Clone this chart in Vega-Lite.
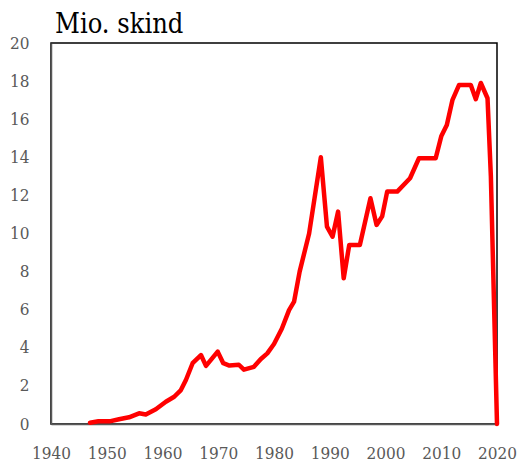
{
  "$schema": "https://vega.github.io/schema/vega-lite/v6.json",
  "width": 446,
  "height": 381,
  "autosize": {"type": "none"},
  "padding": {"left": 51, "top": 43, "right": 20, "bottom": 42},
  "background": "white",
  "config": {
    "view": {"stroke": "#000000", "strokeWidth": 1.5},
    "font": "DejaVu Serif Condensed, DejaVu Serif"
  },
  "title": {
    "text": "Mio. skind",
    "anchor": "start",
    "frame": "group",
    "orient": "top",
    "baseline": "alphabetic",
    "offset": 3,
    "dx": 4,
    "dy": 29,
    "font": "DejaVu Serif Condensed, DejaVu Serif",
    "fontSize": 27,
    "fontWeight": "normal",
    "color": "#000000"
  },
  "data": {
    "values": [
      {"year": 1947.0, "skins": 0.07},
      {"year": 1948.5, "skins": 0.14},
      {"year": 1950.5, "skins": 0.14},
      {"year": 1952.2, "skins": 0.25},
      {"year": 1954.0, "skins": 0.35},
      {"year": 1955.8, "skins": 0.56},
      {"year": 1957.0, "skins": 0.5},
      {"year": 1958.8, "skins": 0.77},
      {"year": 1960.6, "skins": 1.17},
      {"year": 1962.1, "skins": 1.43},
      {"year": 1963.3, "skins": 1.78},
      {"year": 1964.2, "skins": 2.31},
      {"year": 1965.4, "skins": 3.19},
      {"year": 1966.9, "skins": 3.62},
      {"year": 1967.8, "skins": 3.05},
      {"year": 1969.9, "skins": 3.8},
      {"year": 1970.9, "skins": 3.19},
      {"year": 1972.0, "skins": 3.07},
      {"year": 1973.7, "skins": 3.11},
      {"year": 1974.6, "skins": 2.85},
      {"year": 1976.4, "skins": 3.0},
      {"year": 1977.6, "skins": 3.4},
      {"year": 1978.8, "skins": 3.71},
      {"year": 1980.0, "skins": 4.2},
      {"year": 1981.4, "skins": 5.0},
      {"year": 1982.7, "skins": 5.98},
      {"year": 1983.6, "skins": 6.42},
      {"year": 1984.6, "skins": 8.0},
      {"year": 1986.3, "skins": 10.0},
      {"year": 1988.4, "skins": 14.0},
      {"year": 1989.5, "skins": 10.36},
      {"year": 1990.5, "skins": 9.83},
      {"year": 1991.5, "skins": 11.15},
      {"year": 1992.5, "skins": 7.65},
      {"year": 1993.5, "skins": 9.4},
      {"year": 1995.4, "skins": 9.4},
      {"year": 1997.3, "skins": 11.85},
      {"year": 1998.4, "skins": 10.45},
      {"year": 1999.4, "skins": 10.9},
      {"year": 2000.3, "skins": 12.2},
      {"year": 2002.1, "skins": 12.2},
      {"year": 2004.4, "skins": 12.9},
      {"year": 2006.0, "skins": 13.95},
      {"year": 2009.0, "skins": 13.95},
      {"year": 2010.0, "skins": 15.1},
      {"year": 2011.0, "skins": 15.7},
      {"year": 2012.0, "skins": 17.0},
      {"year": 2013.2, "skins": 17.8},
      {"year": 2015.3, "skins": 17.8},
      {"year": 2016.2, "skins": 17.05},
      {"year": 2017.1, "skins": 17.9},
      {"year": 2018.3, "skins": 17.1},
      {"year": 2018.9, "skins": 13.0},
      {"year": 2020.0, "skins": 0}
    ]
  },
  "mark": {
    "type": "line",
    "color": "#FF0000",
    "strokeWidth": 4.5,
    "strokeJoin": "round",
    "strokeCap": "round"
  },
  "encoding": {
    "x": {
      "field": "year",
      "type": "quantitative",
      "scale": {"domain": [1940, 2020], "nice": false, "zero": false},
      "axis": {
        "title": null,
        "values": [1940, 1950, 1960, 1970, 1980, 1990, 2000, 2010, 2020],
        "format": "d",
        "grid": false,
        "ticks": false,
        "domain": true,
        "domainColor": "#595959",
        "domainWidth": 1.5,
        "labelFont": "DejaVu Serif Condensed, DejaVu Serif",
        "labelFontSize": 17,
        "labelColor": "#595959",
        "labelPadding": 21,
        "labelFlush": false,
        "labelOverlap": false
      }
    },
    "y": {
      "field": "skins",
      "type": "quantitative",
      "scale": {"domain": [0, 20], "nice": false},
      "axis": {
        "title": null,
        "values": [0, 2, 4, 6, 8, 10, 12, 14, 16, 18, 20],
        "grid": false,
        "ticks": false,
        "domain": true,
        "domainColor": "#595959",
        "domainWidth": 1.5,
        "labelFont": "DejaVu Serif Condensed, DejaVu Serif",
        "labelFontSize": 17,
        "labelColor": "#595959",
        "labelPadding": 22,
        "labelFlush": false,
        "labelOverlap": false
      }
    }
  }
}
